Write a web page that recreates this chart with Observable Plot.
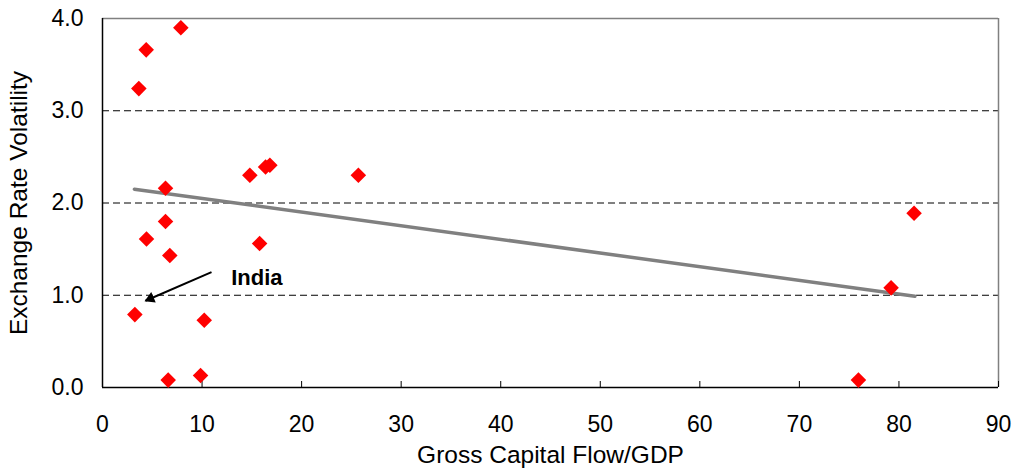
<!DOCTYPE html>
<html>
<head>
<meta charset="utf-8">
<script src="https://cdn.jsdelivr.net/npm/d3@7"></script>
<script src="https://cdn.jsdelivr.net/npm/@observablehq/plot@0.6"></script>
<style>
  html, body { margin: 0; padding: 0; background: #fff; }
  #chart { width: 1016px; height: 472px; overflow: hidden; }
</style>
</head>
<body>
<div id="chart"></div>
<script>
// Data
const flowGDP    = [3.65, 4.39, 7.87, 6.33, 6.33, 4.42, 6.76, 3.25, 10.22, 6.60, 9.85, 14.80, 16.38, 16.81, 15.78, 25.7, 75.93, 79.21, 81.52];
const volatility = [3.24, 3.66, 3.90, 2.16, 1.80, 1.61, 1.43, 0.79, 0.73, 0.08, 0.13, 2.30, 2.39, 2.41, 1.56, 2.30, 0.08, 1.08, 1.89];
const trendX = [3.2, 81.6];
const trendY = [2.15, 0.99];
const xTicks = [0, 10, 20, 30, 40, 50, 60, 70, 80, 90];
const yTicks = [0, 1, 2, 3, 4];
const gridY = [1, 2, 3];
const annotation = [{label: "India", x: 15.5, y: 1.19, ax1: 10.95, ay1: 1.25, ax2: 4.32, ay2: 0.94}];
const xTitle = "Gross Capital Flow/GDP";
const yTitle = "Exchange Rate Volatility";

const points = flowGDP.map((x, i) => ({x, y: volatility[i]}));
const trend = trendX.map((x, i) => ({x, y: trendY[i]}));

const chart = Plot.plot({
  width: 1016,
  height: 472,
  marginLeft: 102,
  marginRight: 18,
  marginTop: 18,
  marginBottom: 85,
  style: {fontFamily: "'Liberation Sans', Arial, sans-serif", fontSize: "23px", color: "#000", background: "#fff"},
  x: {domain: [0, 90]},
  y: {domain: [0, 4]},
  marks: [
    Plot.ruleY(gridY, {stroke: "#000", strokeWidth: 1, strokeDasharray: "7,4"}),
    Plot.ruleY([4], {stroke: "#808080", strokeWidth: 1.5}),
    Plot.ruleX([90], {stroke: "#808080", strokeWidth: 1.5}),
    Plot.tickX(xTicks, {x: d => d, stroke: "#000", insetTop: 363}),
    Plot.axisX({ticks: xTicks, tickSize: 0, tickPadding: 28, tickFormat: d => String(d), label: null, fontSize: 23}),
    Plot.axisX({ticks: [], label: xTitle, labelAnchor: "center", labelArrow: "none", labelOffset: 75, fontSize: 24.5}),
    Plot.axisY({ticks: yTicks, tickSize: 0, tickPadding: 19, tickFormat: d3.format(".1f"), label: null, fontSize: 23}),
    Plot.axisY({ticks: [], label: yTitle, labelAnchor: "center", labelArrow: "none", labelOffset: 93, fontSize: 24.5}),
    Plot.ruleY([0], {stroke: "#000", strokeWidth: 1.5}),
    Plot.ruleX([0], {stroke: "#000", strokeWidth: 1.5}),
    Plot.line(trend, {x: "x", y: "y", stroke: "#808080", strokeWidth: 3.5}),
    Plot.dot(points, {x: "x", y: "y", symbol: "diamond2", r: 7, fill: "#ff0000", stroke: "none"}),
    Plot.link(annotation, {x1: "ax1", y1: "ay1", x2: "ax2", y2: "ay2", stroke: "#000", strokeWidth: 2}),
    Plot.dot(annotation, {x: "ax2", y: "ay2", symbol: "triangle", r: 4.2, fill: "#000", stroke: "none", rotate: 246.6, dx: 5, dy: -2.2}),
    Plot.text(annotation, {x: "x", y: "y", text: "label", fontWeight: "bold", fontSize: 22, fill: "#000"})
  ]
});
document.getElementById("chart").appendChild(chart);
</script>
</body>
</html>
